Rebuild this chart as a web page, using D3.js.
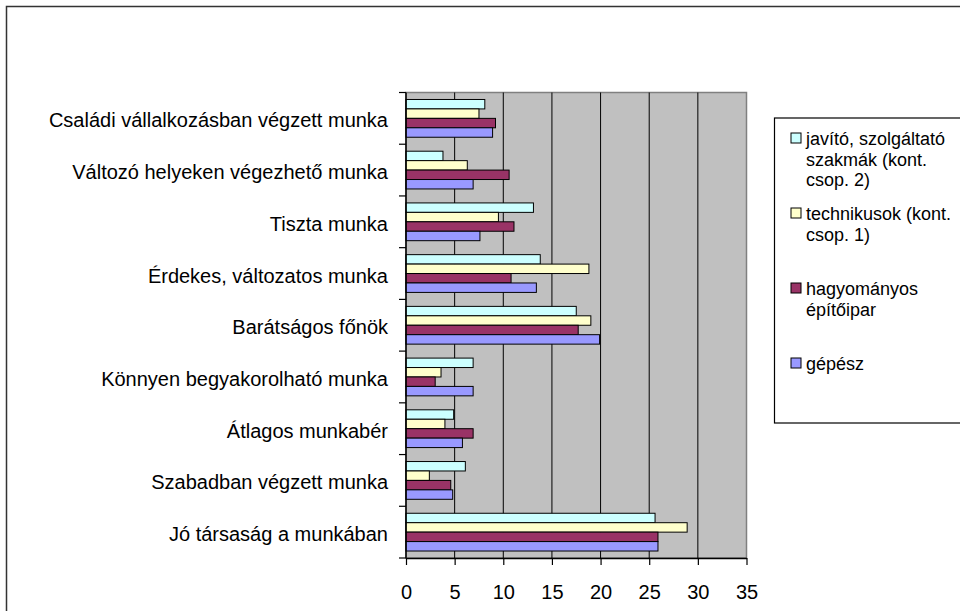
<!DOCTYPE html>
<html>
<head>
<meta charset="utf-8">
<script src="https://cdn.jsdelivr.net/npm/d3@7"></script>
<style>
  body { margin: 0; background: #fff; }
  svg { display: block; font-family: "Liberation Sans", Arial, sans-serif; }
</style>
</head>
<body>
<svg id="chart"></svg>
<script>
var categories = [
  "Családi vállalkozásban végzett munka",
  "Változó helyeken végezhető munka",
  "Tiszta munka",
  "Érdekes, változatos munka",
  "Barátságos főnök",
  "Könnyen begyakorolható munka",
  "Átlagos munkabér",
  "Szabadban végzett munka",
  "Jó társaság a munkában"
]

var javito      = [8.1, 3.8, 13.1, 13.8, 17.5, 6.9, 4.9, 6.1, 25.6]
var technikusok = [7.5, 6.3, 9.5, 18.8, 19.0, 3.6, 4.0, 2.4, 28.9]
var hagyomanyos = [9.2, 10.6, 11.1, 10.8, 17.7, 3.0, 6.9, 4.6, 25.9]
var gepesz      = [8.9, 6.9, 7.6, 13.4, 19.9, 6.9, 5.8, 4.8, 25.9]

var seriesNames = [
  ["javító, szolgáltató", "szakmák (kont.", "csop. 2)"],
  ["technikusok (kont.", "csop. 1)"],
  ["hagyományos", "építőipar"],
  ["gépész"]
]
var seriesValues = [javito, technikusok, hagyomanyos, gepesz]
var seriesColors = ["#CCFFFF", "#FFFFCC", "#993366", "#9999FF"]

var xTicks = [0, 5, 10, 15, 20, 25, 30, 35]

var dimensions = {
  width: 960,
  height: 611,
  plot: { left: 406, right: 746.5, top: 92.5, bottom: 558 }
}

var svg = d3.select("#chart")
  .attr("width", dimensions.width)
  .attr("height", dimensions.height)

// outer chart frame (runs off the right and bottom edges)
svg.append("rect")
  .attr("x", 6.5).attr("y", 6.5)
  .attr("width", 1000).attr("height", 700)
  .attr("fill", "#fff")
  .attr("stroke", "#333")
  .attr("stroke-width", 1.5)

var xScale = d3.scaleLinear()
  .domain([0, 35])
  .range([dimensions.plot.left, dimensions.plot.right])

var yScale = d3.scaleBand()
  .domain(categories)
  .range([dimensions.plot.top, dimensions.plot.bottom])

var groupPad = 0.135
var inner = d3.scaleBand()
  .domain(d3.range(seriesValues.length))
  .range([yScale.bandwidth() * groupPad, yScale.bandwidth() * (1 - groupPad)])

// plot background
svg.append("rect")
  .attr("x", dimensions.plot.left)
  .attr("y", dimensions.plot.top)
  .attr("width", dimensions.plot.right - dimensions.plot.left)
  .attr("height", dimensions.plot.bottom - dimensions.plot.top)
  .attr("fill", "#C0C0C0")
  .attr("stroke", "#808080")
  .attr("stroke-width", 1.5)

// vertical gridlines
svg.append("g")
  .selectAll("line")
  .data(xTicks.slice(1, -1))
  .enter()
  .append("line")
  .attr("x1", d => xScale(d)).attr("x2", d => xScale(d))
  .attr("y1", dimensions.plot.top).attr("y2", dimensions.plot.bottom)
  .attr("stroke", "#000")
  .attr("stroke-width", 1)

// bars
var groups = svg.append("g")
  .selectAll("g")
  .data(categories)
  .enter()
  .append("g")
  .attr("transform", d => `translate(0,${yScale(d)})`)

groups.selectAll("rect")
  .data((c, ci) => seriesValues.map((vals, si) => ({ si: si, v: vals[ci] })))
  .enter()
  .append("rect")
  .attr("x", xScale(0))
  .attr("y", d => inner(d.si))
  .attr("width", d => xScale(d.v) - xScale(0))
  .attr("height", inner.bandwidth())
  .attr("fill", d => seriesColors[d.si])
  .attr("stroke", "#000")
  .attr("stroke-width", 1)

// x axis
var xAxisGen = d3.axisBottom(xScale)
  .tickValues(xTicks)
  .tickSize(7)
  .tickSizeOuter(0)

var xAxis = svg.append("g")
  .attr("transform", `translate(0,${dimensions.plot.bottom})`)
  .call(xAxisGen)
xAxis.select(".domain").attr("stroke", "#000").attr("stroke-width", 1.5)
xAxis.selectAll(".tick line").attr("stroke", "#000").attr("stroke-width", 1.2)
xAxis.selectAll(".tick text")
  .attr("y", 27)
  .attr("fill", "#000")
  .style("font-size", "20px")
  .style("font-family", "'Liberation Sans', Arial, sans-serif")

// y axis: line, ticks between categories, labels
svg.append("line")
  .attr("x1", dimensions.plot.left).attr("x2", dimensions.plot.left)
  .attr("y1", dimensions.plot.top).attr("y2", dimensions.plot.bottom)
  .attr("stroke", "#000")
  .attr("stroke-width", 1.5)

var boundaries = categories.map(c => yScale(c)).concat([dimensions.plot.bottom])
svg.append("g")
  .selectAll("line")
  .data(boundaries)
  .enter()
  .append("line")
  .attr("x1", dimensions.plot.left - 7).attr("x2", dimensions.plot.left)
  .attr("y1", d => d).attr("y2", d => d)
  .attr("stroke", "#000")
  .attr("stroke-width", 1.2)

svg.append("g")
  .selectAll("text")
  .data(categories)
  .enter()
  .append("text")
  .attr("x", 388)
  .attr("y", d => yScale(d) + yScale.bandwidth() / 2 + 2)
  .attr("dy", "0.35em")
  .attr("text-anchor", "end")
  .style("font-size", "20px")
  .attr("fill", "#000")
  .text(d => d)

// legend
var legend = svg.append("g")
legend.append("rect")
  .attr("x", 774.5).attr("y", 118)
  .attr("width", 240).attr("height", 305)
  .attr("fill", "#fff")
  .attr("stroke", "#000")
  .attr("stroke-width", 1.2)

var items = legend.selectAll("g")
  .data(seriesNames)
  .enter()
  .append("g")
  .attr("transform", (d, i) => `translate(0,${145 + i * 75})`)

items.append("rect")
  .attr("x", 791).attr("y", -12)
  .attr("width", 10).attr("height", 10)
  .attr("fill", (d, i) => seriesColors[i])
  .attr("stroke", "#000")
  .attr("stroke-width", 1)

items.append("text")
  .attr("x", 806)
  .style("font-size", "18px")
  .attr("fill", "#000")
  .selectAll("tspan")
  .data(d => d)
  .enter()
  .append("tspan")
  .attr("x", 806)
  .attr("y", (d, i) => i * 20.5)
  .text(d => d)
</script>
</body>
</html>
